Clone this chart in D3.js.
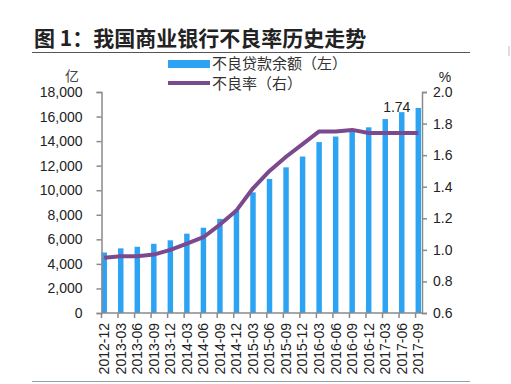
<!DOCTYPE html>
<html>
<head>
<meta charset="utf-8">
<script src="https://cdnjs.cloudflare.com/ajax/libs/d3/7.8.5/d3.min.js"></script>
<style>
  html, body { margin: 0; padding: 0; background: #fff; }
  #chart { width: 511px; height: 384px; }
  text { font-family: "Liberation Sans", Arial, sans-serif; }
  .cjk { font-family: "Noto Sans CJK SC", sans-serif; }
</style>
</head>
<body>
<div id="chart"></div>
<script>
//Datos
const periodos = ['2012-12','2013-03','2013-06','2013-09','2013-12','2014-03','2014-06','2014-09','2014-12',
    '2015-03','2015-06','2015-09','2015-12','2016-03','2016-06','2016-09','2016-12','2017-03','2017-06','2017-09'];
const saldoMorosos = [4929, 5265, 5395, 5636, 5921, 6461, 6944, 7669, 8426, 9825, 10919, 11863, 12744,
    13921, 14373, 14940, 15123, 15795, 16358, 16702];
const tasaMorosidad = [0.95, 0.96, 0.96, 0.97, 1.00, 1.04, 1.08, 1.16, 1.25, 1.39, 1.50, 1.59, 1.67,
    1.75, 1.75, 1.76, 1.74, 1.74, 1.74, 1.74];
const ticksIzq = [0, 2000, 4000, 6000, 8000, 10000, 12000, 14000, 16000, 18000];
const ticksDer = [0.6, 0.8, 1.0, 1.2, 1.4, 1.6, 1.8, 2.0];
const leyenda = ['不良贷款余额（左）', '不良率（右）'];
const titulo = '图 1：我国商业银行不良率历史走势';

const COLOR_BARRA = '#2CA3F3',
COLOR_LINEA = '#7B4A8E',
COLOR_EJE = '#8a8a8a',
COLOR_TEXTO = '#222';

let svg = d3.select('#chart')
    .append('svg')
        .attr('width', 511)
        .attr('height', 384);

//Márgenes del área de trazado
let margin = {top: 92, left: 101.5, right: 422, bottom: 313};

let x = d3.scaleBand()
    .domain(periodos)
    .range([margin.left, margin.left + 20 * 16.53])
    .padding(0);

let yIzq = d3.scaleLinear()
    .domain([0, 18000])
    .range([margin.bottom, margin.top]);

let yDer = d3.scaleLinear()
    .domain([0.6, 2.0])
    .range([margin.bottom, margin.top]);

let anchoBarra = x.bandwidth() * 0.33;
let centro = function(d) { return x(d) + anchoBarra / 2; };

//Título
svg.append('text')
    .attr('class', 'cjk')
    .attr('x', 34)
    .attr('y', 46)
    .attr('font-size', 21)
    .attr('font-weight', 'bold')
    .attr('fill', COLOR_TEXTO)
    .text(titulo);

svg.append('line')
    .attr('x1', 32).attr('x2', 470)
    .attr('y1', 52.5).attr('y2', 52.5)
    .attr('stroke', '#555').attr('stroke-width', 1);

svg.append('line')
    .attr('x1', 32).attr('x2', 470)
    .attr('y1', 381.5).attr('y2', 381.5)
    .attr('stroke', '#8fa3aa').attr('stroke-width', 1);

//Barras
svg.append('g')
    .selectAll('rect')
    .data(periodos)
    .enter()
    .append('rect')
    .attr('x', function(d) { return x(d); })
    .attr('y', function(d, i) { return yIzq(saldoMorosos[i]); })
    .attr('width', anchoBarra)
    .attr('height', function(d, i) { return yIzq(0) - yIzq(saldoMorosos[i]); })
    .attr('fill', COLOR_BARRA);

//Línea
let linea = d3.line()
    .x(function(d, i) { return centro(periodos[i]); })
    .y(function(d) { return yDer(d); });

svg.append('path')
    .datum(tasaMorosidad)
    .attr('d', linea)
    .attr('fill', 'none')
    .attr('stroke', COLOR_LINEA)
    .attr('stroke-width', 4)
    .attr('stroke-linejoin', 'round');

//Etiqueta 1.74
svg.append('text')
    .attr('x', centro(periodos[18]) - 5)
    .attr('y', yDer(tasaMorosidad[18]) - 21)
    .attr('text-anchor', 'middle')
    .attr('font-size', 14)
    .attr('fill', COLOR_TEXTO)
    .text(tasaMorosidad[18].toFixed(2));

//Eje izquierdo
let ejeIzq = svg.append('g')
    .attr('transform', 'translate(' + margin.left + ',0)')
    .call(d3.axisLeft(yIzq).tickValues(ticksIzq).tickSize(5).tickPadding(14).tickFormat(d3.format(',')));

//Eje derecho
let ejeDer = svg.append('g')
    .attr('transform', 'translate(' + margin.right + ',0)')
    .call(d3.axisRight(yDer).tickValues(ticksDer).tickSize(5).tickPadding(6).tickFormat(d3.format('.1f')));

//Eje inferior
let ejeX = svg.append('g')
    .attr('transform', 'translate(0,' + margin.bottom + ')')
    .call(d3.axisBottom(x).tickSize(5).tickSizeOuter(0));

ejeX.selectAll('.tick line')
    .attr('transform', function() { return 'translate(' + (-x.bandwidth() / 2) + ',0)'; });

ejeX.selectAll('.tick text')
    .attr('transform', 'translate(' + (anchoBarra / 2 - x.bandwidth() / 2) + ',0) rotate(-90)')
    .attr('x', -10)
    .attr('y', 0)
    .attr('dy', '0.35em')
    .attr('text-anchor', 'end');

ejeX.select('.domain')
    .attr('d', 'M' + margin.left + ',0H' + margin.right);

[ejeIzq, ejeDer, ejeX].forEach(function(g) {
    g.selectAll('.domain').attr('stroke', COLOR_EJE).attr('stroke-width', 1.5);
    g.selectAll('.tick line').attr('stroke', COLOR_EJE).attr('stroke-width', 1.5);
    g.selectAll('.tick text')
        .attr('font-family', '"Liberation Sans", Arial, sans-serif')
        .attr('font-size', 14)
        .attr('fill', COLOR_TEXTO);
});

//Unidades
svg.append('text')
    .attr('class', 'cjk')
    .attr('x', 72).attr('y', 81)
    .attr('text-anchor', 'middle')
    .attr('font-size', 14)
    .attr('fill', '#444')
    .text('亿');

svg.append('text')
    .attr('x', 445).attr('y', 82)
    .attr('text-anchor', 'middle')
    .attr('font-size', 14)
    .attr('fill', COLOR_TEXTO)
    .text('%');

//Leyenda
svg.append('rect')
    .attr('x', 168).attr('y', 60)
    .attr('width', 42).attr('height', 8)
    .attr('fill', COLOR_BARRA);

svg.append('line')
    .attr('x1', 168).attr('x2', 210)
    .attr('y1', 83).attr('y2', 83)
    .attr('stroke', COLOR_LINEA).attr('stroke-width', 4);

svg.selectAll('.leyenda')
    .data(leyenda)
    .enter()
    .append('text')
    .attr('class', 'cjk leyenda')
    .attr('x', 212)
    .attr('y', function(d, i) { return 69 + i * 20; })
    .attr('font-size', 15)
    .attr('fill', '#333')
    .text(function(d) { return d; });

//Marcas del panel vecino
svg.append('line')
    .attr('x1', 509).attr('x2', 509)
    .attr('y1', 46).attr('y2', 56)
    .attr('stroke', '#bbb');
</script>
</body>
</html>
